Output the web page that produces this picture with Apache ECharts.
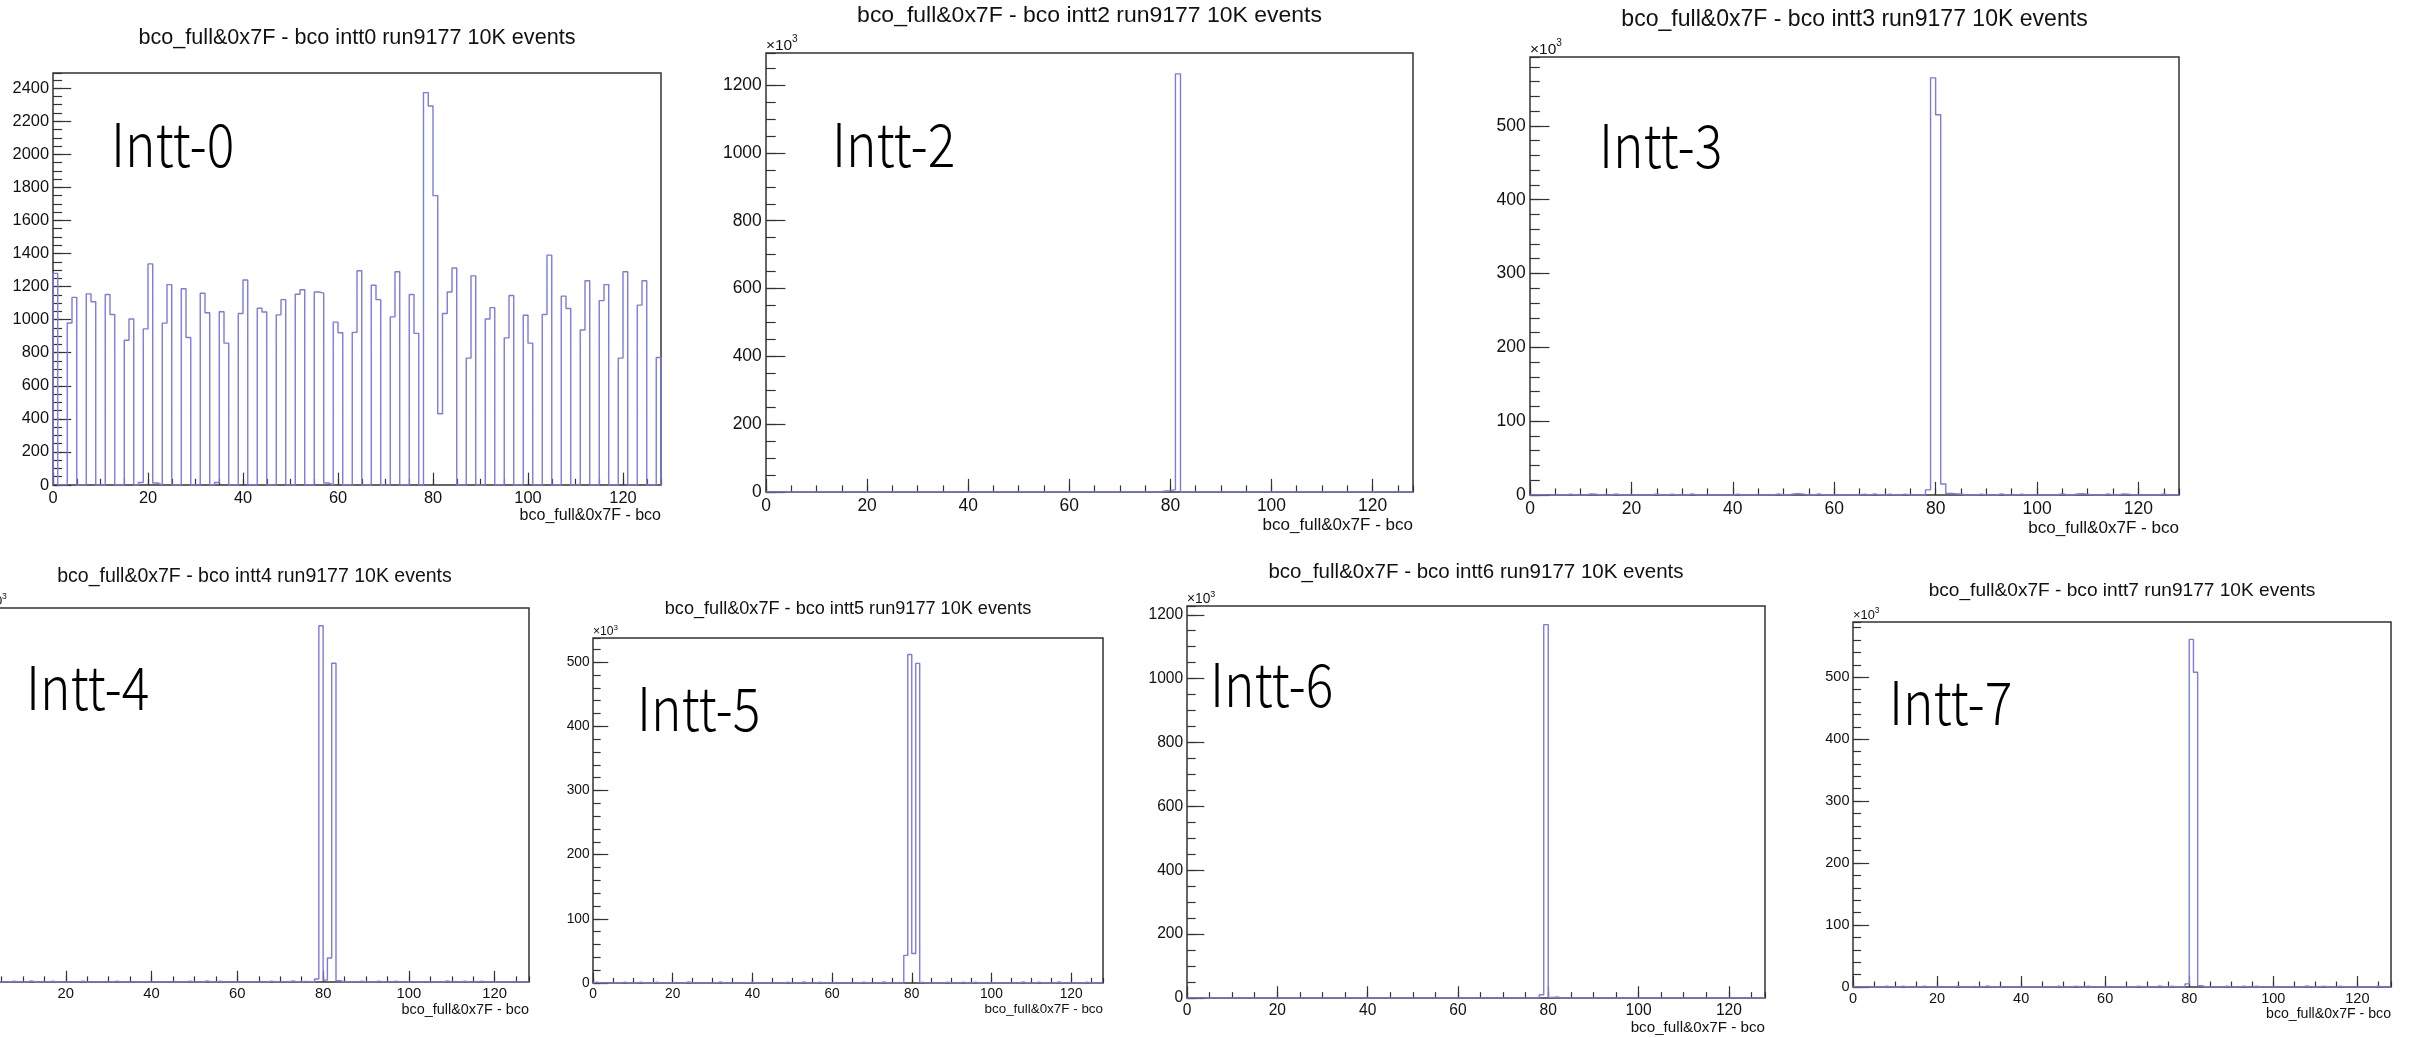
<!DOCTYPE html>
<html>
<head>
<meta charset="utf-8">
<script src="https://cdn.jsdelivr.net/npm/echarts@6/dist/echarts.min.js"></script>
<style>
html,body{margin:0;padding:0;background:#ffffff;}
#c{width:2414px;height:1038px;}
</style>
</head>
<body>
<div id="c"></div>
<script>
// ---------------- DATA ----------------
const NBINS = 128;                 // bins of width 1 from 0 to 128
const xTickLabels = [0, 20, 40, 60, 80, 100, 120];

const panelTitles = [
  'bco_full&0x7F - bco intt0 run9177 10K events',
  'bco_full&0x7F - bco intt2 run9177 10K events',
  'bco_full&0x7F - bco intt3 run9177 10K events',
  'bco_full&0x7F - bco intt4 run9177 10K events',
  'bco_full&0x7F - bco intt5 run9177 10K events',
  'bco_full&0x7F - bco intt6 run9177 10K events',
  'bco_full&0x7F - bco intt7 run9177 10K events'
];
const panelTags = ['Intt-0', 'Intt-2', 'Intt-3', 'Intt-4', 'Intt-5', 'Intt-6', 'Intt-7'];
const xAxisTitle = 'bco_full&0x7F - bco';

// intt0: counts per bin (all 128 bins)
const intt0 = [
  1280,0,0,980,1135,0,0,1156,1108,0,0,1152,1031,0,0,875,
  1004,0,15,944,1337,12,0,979,1212,0,0,1187,892,0,0,1160,
  1042,0,15,1048,858,0,0,1037,1240,0,0,1069,1046,0,0,1029,
  1121,0,0,1154,1181,0,0,1167,1160,12,0,985,921,0,0,923,
  1296,0,0,1208,1121,0,0,1017,1290,0,0,1152,917,0,2373,2292,
  1750,431,1037,1167,1312,0,0,767,1265,0,0,1004,1073,0,0,890,
  1146,0,0,1027,858,0,0,1031,1390,0,0,1142,1067,0,0,937,
  1235,0,0,1115,1212,0,0,767,1290,0,0,1088,1235,0,0,771
];

// other boards: counts in units of 10^3, given as (non-empty bin, value) lists
const intt2Bins = [78, 79, 80, 81];
const intt2Vals = [3, 4, 7, 1233];

const intt3Bins = [7,11,12,16,24,27,31,40,48,51,52,53,56,65,67,70,73,78,79,80,81,82,83,84,88,92,96,104,107,108,109,113,116,117,124];
const intt3Vals = [1.2,1.5,1.0,1.3,1.4,1.1,1.6,1.2,1.5,1.3,1.8,1.2,1.4,1.1,1.6,1.0,1.2,7,565,515,15,2.0,1.6,1.4,1.2,1.5,1.1,1.7,1.4,1.6,1.2,1.3,1.5,1.2,1.4];

const intt4Bins = [7,11,16,23,31,48,52,55,67,72,75,78,79,80,81,82,83,88,92,96,108,112,116];
const intt4Vals = [1.3,1.6,1.2,1.4,1.5,1.3,1.7,1.2,1.4,1.6,1.1,5,580,3,39,519,2,1.3,1.5,1.4,1.6,1.2,1.5];

const intt5Bins = [0,7,11,15,23,31,39,48,52,56,67,72,78,79,80,81,82,88,92,95,107,111,116,123];
const intt5Vals = [1.2,1.4,1.3,1.1,1.5,1.6,1.2,1.4,1.7,1.3,1.2,1.5,43,512,46,498,1,1.4,1.3,1.2,1.6,1.3,1.5,1.2];

const intt6Bins = [78, 79, 80, 81];
const intt6Vals = [10, 1169, 2, 3];

const intt7Bins = [7,11,16,24,28,31,48,52,55,67,72,75,79,80,81,82,88,92,95,107,111,115,124];
const intt7Vals = [1.3,1.5,1.2,1.4,1.1,1.6,1.3,1.5,1.2,1.4,1.6,1.2,5,561,508,2,1.3,1.5,1.2,1.6,1.4,1.3,1.5];

// y-axis major / minor tick steps per panel
const yMajorStep = [200, 200, 100, 100, 100, 200, 100];
const yMinorStep = [50, 50, 20, 20, 20, 50, 20];
const showX1e3 = [false, true, true, true, true, true, true];

// ---------------- LAYOUT (style only) ----------------
const layout = [
  {L: 53,   T: 73,  R: 661,  B: 485},
  {L: 766,  T: 53,  R: 1413, B: 492},
  {L: 1530, T: 57,  R: 2179, B: 495},
  {L: -20,  T: 608, R: 529,  B: 982},
  {L: 593,  T: 638, R: 1103, B: 983},
  {L: 1187, T: 606, R: 1765, B: 998},
  {L: 1853, T: 622, R: 2391, B: 987}
];
const tagPos = [[111,144],[832,144],[1599,145],[26,687],[637,708],[1210,684],[1889,702]];

const FONT = '"Liberation Sans", Arial, Helvetica, sans-serif';
const TAGFONT = '"Noto Sans CJK JP Light", "Noto Sans CJK JP", "Noto Sans", sans-serif';
const FRAME = '#333333';
const HIST = '#7b7be0';
const TXT = '#111111';

// ---------------- BUILD ----------------
function expand(bins, vals) {
  const a = new Array(NBINS).fill(0);
  bins.forEach((b, i) => { a[b] = vals[i]; });
  return a;
}
const panelValues = [
  intt0,
  expand(intt2Bins, intt2Vals),
  expand(intt3Bins, intt3Vals),
  expand(intt4Bins, intt4Vals),
  expand(intt5Bins, intt5Vals),
  expand(intt6Bins, intt6Vals),
  expand(intt7Bins, intt7Vals)
];

function stepPoints(vals) {
  const pts = [[0, 0]];
  vals.forEach((v, i) => pts.push([i, v]));
  pts.push([NBINS, vals[NBINS - 1]]);
  pts.push([NBINS, 0]);
  return pts;
}

const grids = [], xAxes = [], yAxes = [], series = [], graphics = [];

layout.forEach((p, i) => {
  const W = p.R - p.L, H = p.B - p.T;
  const s = W / 608;
  const yMax = 1.05 * Math.max(...panelValues[i]);
  grids.push({left: p.L, top: p.T, width: W, height: H, show: true,
    borderColor: FRAME, borderWidth: 1.5, backgroundColor: 'transparent',
    containLabel: false, outerBoundsMode: 'none'});

  const lblFont = 16.4 * s;
  // major x
  xAxes.push({gridIndex: i, type: 'value', min: 0, max: NBINS, interval: 20, position: 'bottom',
    axisLine: {show: false, onZero: false},
    axisTick: {show: true, inside: true, length: 0.03 * H, lineStyle: {color: FRAME, width: 1.2}},
    axisLabel: {show: true, showMaxLabel: false, margin: 5 * s, fontSize: lblFont, fontFamily: FONT, color: TXT,
      formatter: v => (xTickLabels.indexOf(v) >= 0 ? String(v) : '')},
    splitLine: {show: false}});
  // minor x
  xAxes.push({gridIndex: i, type: 'value', min: 0, max: NBINS, interval: 5, position: 'bottom',
    axisLine: {show: false, onZero: false},
    axisTick: {show: true, inside: true, length: 0.015 * H, lineStyle: {color: FRAME, width: 1.2}},
    axisLabel: {show: false}, splitLine: {show: false}});
  // major y
  yAxes.push({gridIndex: i, type: 'value', min: 0, max: yMax, interval: yMajorStep[i], position: 'left',
    axisLine: {show: false, onZero: false},
    axisTick: {show: true, inside: true, length: 0.03 * W, lineStyle: {color: FRAME, width: 1.2}},
    axisLabel: {show: true, showMaxLabel: false, margin: 4 * s, fontSize: lblFont, fontFamily: FONT, color: TXT,
      formatter: v => String(Math.round(v))},
    splitLine: {show: false}});
  // minor y
  yAxes.push({gridIndex: i, type: 'value', min: 0, max: yMax, interval: yMinorStep[i], position: 'left',
    axisLine: {show: false, onZero: false},
    axisTick: {show: true, inside: true, length: 0.015 * W, lineStyle: {color: FRAME, width: 1.2}},
    axisLabel: {show: false}, splitLine: {show: false}});

  series.push({type: 'line', xAxisIndex: 2 * i, yAxisIndex: 2 * i, step: 'end',
    data: stepPoints(panelValues[i]), symbol: 'none', showSymbol: false, animation: false,
    lineStyle: {color: HIST, width: 1.4}, clip: true, silent: true});

  // title
  graphics.push({type: 'text', silent: true, x: (p.L + p.R) / 2, y: p.T - 35 * s,
    style: {text: panelTitles[i], fill: TXT, fontSize: 21.6 * s, fontFamily: FONT,
      align: 'center', verticalAlign: 'middle', textAlign: 'center', textVerticalAlign: 'middle'}});
  // x axis title
  graphics.push({type: 'text', silent: true, x: p.R, y: p.B + 31 * s,
    style: {text: xAxisTitle, fill: TXT, fontSize: 16 * s, fontFamily: FONT,
      align: 'right', verticalAlign: 'middle', textAlign: 'right', textVerticalAlign: 'middle'}});
  // x10^3
  if (showX1e3[i]) {
    graphics.push({type: 'text', silent: true, x: p.L, y: p.T - 7 * s,
      style: {text: '\u00d710', fill: TXT, fontSize: 14.5 * s, fontFamily: FONT,
        align: 'left', verticalAlign: 'middle', textAlign: 'left', textVerticalAlign: 'middle'}});
    graphics.push({type: 'text', silent: true, x: p.L + 24.5 * s, y: p.T - 12.5 * s,
      style: {text: '3', fill: TXT, fontSize: 9.5 * s, fontFamily: FONT,
        align: 'left', verticalAlign: 'middle', textAlign: 'left', textVerticalAlign: 'middle'}});
  }
  // board tag
  graphics.push({type: 'text', silent: true, x: tagPos[i][0], y: tagPos[i][1], scaleX: 0.86,
    style: {text: panelTags[i], fill: '#000000', fontSize: 60, fontFamily: TAGFONT, fontWeight: 300,
      align: 'left', verticalAlign: 'middle', textAlign: 'left', textVerticalAlign: 'middle'}});
});

const chart = echarts.init(document.getElementById('c'), null, {renderer: 'canvas', width: 2414, height: 1038});
chart.setOption({
  backgroundColor: '#ffffff',
  animation: false,
  grid: grids,
  xAxis: xAxes,
  yAxis: yAxes,
  series: series,
  graphic: {elements: graphics}
});
</script>
</body>
</html>
